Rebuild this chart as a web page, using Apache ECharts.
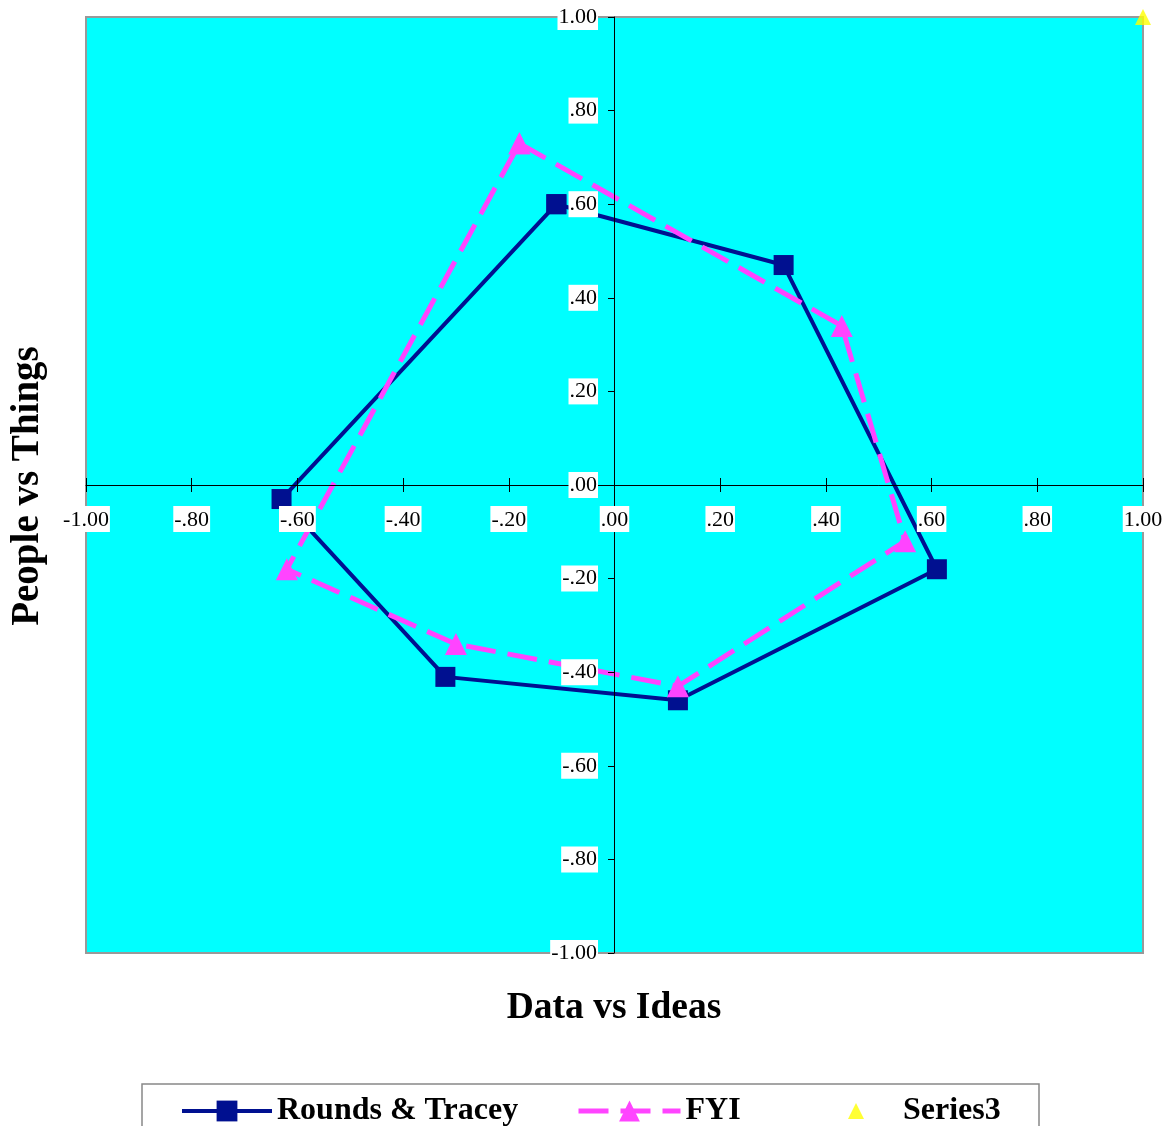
<!DOCTYPE html>
<html><head><meta charset="utf-8">
<script src="https://cdn.jsdelivr.net/npm/echarts@6/dist/echarts.min.js"></script>
<style>html,body{margin:0;padding:0;background:#fff}#c{width:1173px;height:1126px}</style>
</head><body><div id="c"></div>
<script>
const seriesNames = ['Rounds & Tracey', 'FYI', 'Series3'];
const roundsX = [-0.11, 0.32, 0.61, 0.12, -0.32, -0.63, -0.11];
const roundsY = [0.60, 0.47, -0.18, -0.46, -0.41, -0.03, 0.60];
const fyiX = [-0.18, 0.43, 0.55, 0.12, -0.30, -0.62, -0.18];
const fyiY = [0.73, 0.34, -0.12, -0.43, -0.34, -0.18, 0.73];
const s3X = [1.0];
const s3Y = [1.0];
const xTitle = 'Data vs Ideas';
const yTitle = 'People vs Things';

const pair = (xs, ys) => xs.map((x, i) => [x, ys[i]]);
const fmt = v => v.toFixed(2).replace(/^(-?)0\./, '$1.');
const FONT = 'Liberation Serif';

const labelStyle = {
  formatter: fmt, fontFamily: FONT, fontSize: 22, color: '#000',
  backgroundColor: '#fff', padding: [3, 1, 1, 1]
};
const legendText = { fontFamily: FONT, fontWeight: 'bold', fontSize: 32, color: '#000' };

const chart = echarts.init(document.getElementById('c'));
chart.setOption({
  animation: false,
  grid: { left: 86, right: 30, top: 17, bottom: 173, show: true, backgroundColor: '#00FFFF', borderColor: '#999', borderWidth: 2, containLabel: false },
  xAxis: [
    { type: 'value', min: -1, max: 1, interval: 0.2, z: 10, position: 'bottom', offset: -468,
      axisLine: { onZero: false, lineStyle: { color: '#000', width: 1 } },
      axisTick: { show: true, length: 7, lineStyle: { color: '#000' } },
      axisLabel: Object.assign({ margin: 21 }, labelStyle),
      splitLine: { show: false } },
    { type: 'value', min: -1, max: 1, interval: 0.2, position: 'bottom', offset: -468, z: 10,
      axisLine: { show: false, onZero: false },
      axisTick: { show: true, inside: true, length: 7, lineStyle: { color: '#000' } },
      axisLabel: { show: false }, splitLine: { show: false } }
  ],
  yAxis: [
    { type: 'value', min: -1, max: 1, interval: 0.2, z: 10, position: 'left', offset: -528,
      axisLine: { onZero: false, lineStyle: { color: '#000', width: 1 } },
      axisTick: { show: true, length: 6, lineStyle: { color: '#000' } },
      axisLabel: Object.assign({ margin: 16 }, labelStyle),
      splitLine: { show: false } }
  ],
  legend: [
    { data: [seriesNames[0]], left: 180, top: 1095, padding: 0, itemWidth: 90, itemHeight: 26,
      lineStyle: { width: 4 }, textStyle: legendText },
    { data: [seriesNames[1]], left: 576, top: 1095, padding: 0, itemWidth: 102, itemHeight: 26,
      lineStyle: { width: 5 }, textStyle: legendText },
    { data: [seriesNames[2]], left: 848, top: 1095, padding: 0, itemWidth: 16, itemHeight: 16,
      textStyle: Object.assign({ padding: [0, 0, 0, 34] }, legendText) }
  ],
  graphic: [
    { type: 'rect', z: 0, shape: { x: 142, y: 1084, width: 897, height: 100 }, style: { fill: '#fff', stroke: '#888', lineWidth: 1.5 } },
    { type: 'text', z: 20, x: 28, y: 486, rotation: Math.PI / 2, style: { text: yTitle, fontFamily: FONT, fontWeight: 'bold', fontSize: 39, fill: '#000', align: 'center', verticalAlign: 'middle' } },
    { type: 'text', z: 20, x: 614, y: 1008, style: { text: xTitle, fontFamily: FONT, fontWeight: 'bold', fontSize: 37.5, fill: '#000', align: 'center', verticalAlign: 'middle' } }
  ],
  series: [
    { name: seriesNames[0], type: 'line', data: pair(roundsX, roundsY), symbol: 'rect', symbolSize: 20,
      lineStyle: { color: '#001090', width: 4 }, itemStyle: { color: '#001090' }, z: 3 },
    { name: seriesNames[1], type: 'line', data: pair(fyiX, fyiY), symbol: 'triangle', symbolSize: 22,
      lineStyle: { color: '#FF44FF', width: 5, type: [30, 12] }, itemStyle: { color: '#FF44FF' }, z: 4 },
    { name: seriesNames[2], type: 'scatter', data: pair(s3X, s3Y), symbol: 'triangle', symbolSize: 16,
      itemStyle: { color: '#FFFF00' }, clip: false, z: 5 }
  ]
});
</script></body></html>
